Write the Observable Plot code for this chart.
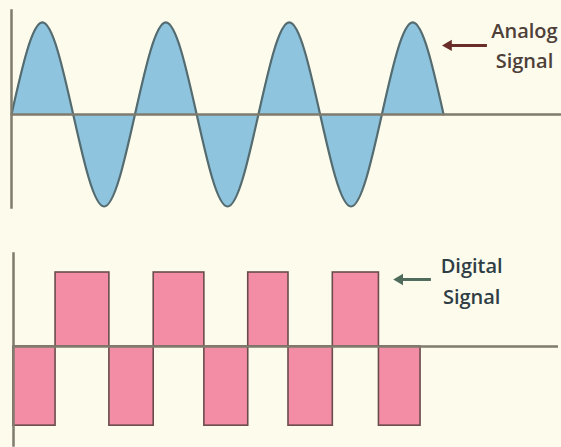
<!DOCTYPE html>
<html>
<head>
<meta charset="utf-8">
<script src="https://cdn.jsdelivr.net/npm/d3@7"></script>
<script src="https://cdn.jsdelivr.net/npm/@observablehq/plot@0.6"></script>
<style>
  html, body { margin: 0; padding: 0; background: #fcfbec; }
  #chart { width: 561px; height: 447px; overflow: hidden; background: #fcfbec; }
  #chart svg { display: block; }
</style>
</head>
<body>
<div id="chart"></div>
<script>
// ---- Analog signal: key points (time in quarter periods) ----
const analogT = [0, 1, 2, 3, 4, 5, 6, 7, 8, 9, 10, 11, 12, 13, 14];
const analogV = [0, 1, 0, -1, 0, 1, 0, -1, 0, 1, 0, -1, 0, 1, 0];

// ---- Digital signal: bit edges (time) and levels ----
const digitalEdges = [0, 0.93, 2.12, 3.10, 4.22, 5.19, 6.08, 7.06, 8.08, 9.0];
const digitalLevels = [-1.07, 1, -1.07, 1, -1.07, 1, -1.07, 1, -1.07];

// ---- Labels ----
const analogLabel = ["Analog", "Signal"];
const digitalLabel = ["Digital", "Signal"];

const BG = "#fcfbec";
const AXIS = "#7f7b6d";

const analog = analogT.map((t, i) => ({t, v: analogV[i]}));
const digital = digitalLevels.map((v, i) => ({x1: digitalEdges[i], x2: digitalEdges[i + 1], v}));

const font = "'Open Sans', sans-serif";

function pointer(x1, x2, y, color) {
  return [
    Plot.ruleY([y], {x1: x2 + 0.05, x2: x1, stroke: color, strokeWidth: 3}),
    Plot.dot([{x: x2, y}], {x: "x", y: "y", symbol: "triangle", rotate: -90, r: 4.2, fill: color, stroke: "none"})
  ];
}

const topPlot = Plot.plot({
  width: 561,
  height: 220,
  marginLeft: 11,
  marginRight: 0,
  marginTop: 10,
  marginBottom: 13,
  style: {background: BG},
  x: {domain: [0, 17.82], axis: null},
  y: {domain: [-1.011, 1.130], axis: null},
  marks: [
    Plot.areaY(analog, {x: "t", y: "v", curve: "natural", fill: "#8fc4de"}),
    Plot.line(analog, {x: "t", y: "v", curve: "natural", stroke: "#546b70", strokeWidth: 2.2}),
    Plot.ruleY([0], {stroke: AXIS, strokeWidth: 2.5}),
    Plot.frame({anchor: "left", stroke: AXIS, strokeWidth: 2.5}),
    ...pointer(15.42, 14.16, 0.75, "#6a2e2a"),
    Plot.text(analogLabel, {
      x: () => 16.62, y: (d, i) => [0.826, 0.5][i], text: d => d,
      textAnchor: "middle", lineAnchor: "bottom",
      fontSize: 20, fontWeight: 600, fontFamily: font, fill: "#4e4038"
    })
  ]
});

const bottomPlot = Plot.plot({
  width: 561,
  height: 227,
  marginLeft: 13,
  marginRight: 3,
  marginTop: 33,
  marginBottom: 2,
  style: {background: BG},
  x: {domain: [0, 12.05], axis: null},
  y: {domain: [-1.338, 1.257], axis: null},
  marks: [
    Plot.rectY(digital, {x1: "x1", x2: "x2", y1: 0, y2: "v", fill: "#f28da5", stroke: "#6a4c4c", strokeWidth: 1.6}),
    Plot.ruleY([0], {stroke: AXIS, strokeWidth: 2.5}),
    Plot.frame({anchor: "left", stroke: AXIS, strokeWidth: 2.5}),
    ...pointer(9.24, 8.54, 0.906, "#4f6b5c"),
    Plot.text(digitalLabel, {
      x: () => 10.13, y: (d, i) => [1.0, 0.581][i], text: d => d,
      textAnchor: "middle", lineAnchor: "bottom",
      fontSize: 20, fontWeight: 600, fontFamily: font, fill: "#2f3d45"
    })
  ]
});

const chart = document.getElementById("chart");
chart.appendChild(topPlot);
chart.appendChild(bottomPlot);
</script>
</body>
</html>
